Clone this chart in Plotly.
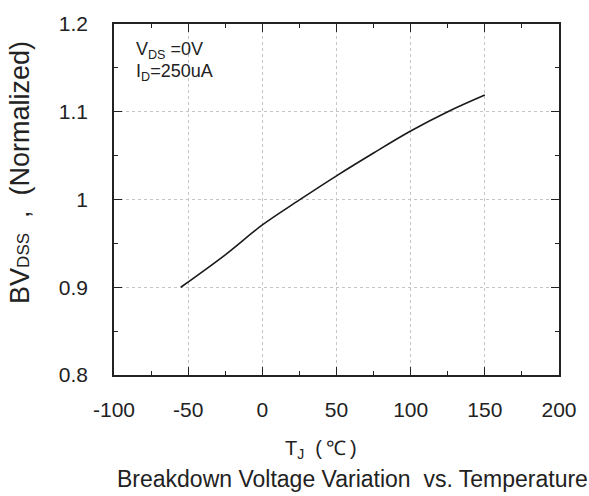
import plotly.graph_objects as go

temps = [-55, -25, 0, 25, 50, 75, 100, 125, 150]
bv_norm = [0.900, 0.937, 0.971, 0.9995, 1.027, 1.053, 1.078, 1.100, 1.119]

x_ticks = [-100, -50, 0, 50, 100, 150, 200]
x_tick_text = ["-100", "-50", "0", "50", "100", "150", "200"]
y_ticks = [0.8, 0.9, 1.0, 1.1, 1.2]
y_tick_text = ["0.8", "0.9", "1", "1.1", "1.2"]

FONT = "Liberation Sans, Arial, sans-serif"
NB = "\u00a0"

fig = go.Figure()
fig.add_trace(go.Scatter(x=temps, y=bv_norm, mode="lines",
                         line=dict(color="#1a1a1a", width=1.6, shape="spline"),
                         showlegend=False, hoverinfo="skip"))

axis_common = dict(
    showline=True, linecolor="#222", linewidth=1.5, mirror="ticks",
    ticks="inside", ticklen=8, tickwidth=1.3, tickcolor="#222",
    showgrid=True, gridcolor="#c4c4c4", griddash="dot", gridwidth=1,
    zeroline=False,
    tickfont=dict(family=FONT, size=21, color="#222"),
)

fig.update_xaxes(range=[-100, 200], tickvals=x_ticks, ticktext=x_tick_text,
                 ticklabelstandoff=15,
                 minor=dict(ticks="inside", ticklen=4, dtick=25, tick0=-100,
                            tickcolor="#222", tickwidth=1.2, showgrid=False),
                 **axis_common)
fig.update_yaxes(range=[0.8, 1.2], tickvals=y_ticks, ticktext=y_tick_text,
                 ticklabelstandoff=20,
                 minor=dict(ticks="inside", ticklen=4, dtick=0.05, tick0=0.8,
                            tickcolor="#222", tickwidth=1.2, showgrid=False),
                 **axis_common)

# y-axis title
fig.add_annotation(xref="paper", yref="paper", x=-0.211, y=0.576, xanchor="center", yanchor="middle",
                   textangle=-90,
                   text="BV<span style='font-size:17px'>DSS</span>" + NB * 2 + "," + NB * 2 + "(Normalized)",
                   showarrow=False, font=dict(family=FONT, size=27, color="#222"))

fig.add_annotation(xref="paper", yref="paper", x=0.045, y=0.925, xanchor="left", yanchor="middle",
                   text="V<sub>DS</sub> =0V", showarrow=False,
                   font=dict(family=FONT, size=18, color="#222"))
fig.add_annotation(xref="paper", yref="paper", x=0.045, y=0.862, xanchor="left", yanchor="middle",
                   text="I<sub>D</sub>=250uA", showarrow=False,
                   font=dict(family=FONT, size=18, color="#222"))

fig.add_annotation(xref="paper", yref="paper", x=0.465, y=-0.213, xanchor="center", yanchor="middle",
                   text="T<sub>J</sub>" + NB * 2 + "(" + "\u2009℃\u2009" + ")",
                   showarrow=False,
                   font=dict(family=FONT, size=20, color="#222"))
fig.add_annotation(xref="paper", yref="paper", x=0.537, y=-0.295, xanchor="center", yanchor="middle",
                   text="Breakdown Voltage Variation" + NB * 2 + "vs. Temperature", showarrow=False,
                   font=dict(family=FONT, size=23, color="#222"))

fig.update_layout(width=589, height=496,
                  margin=dict(l=114, r=30, t=19, b=121),
                  paper_bgcolor="white", plot_bgcolor="white")

fig.write_html("out.html")
